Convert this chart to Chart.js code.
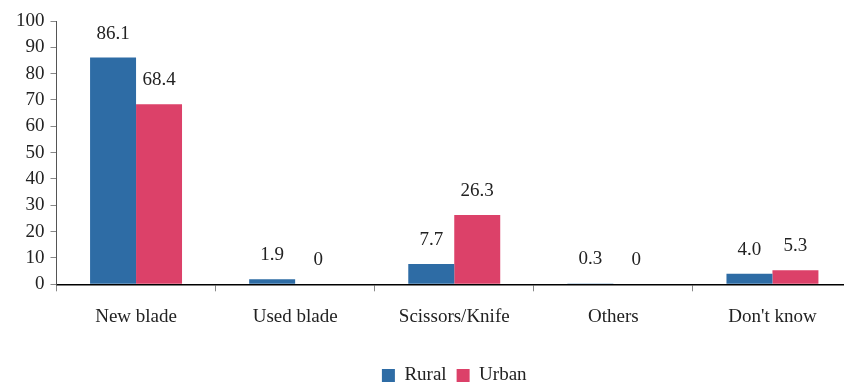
<!DOCTYPE html>
<html lang="en">
<head>
  <meta charset="UTF-8" />
  <script src="https://cdn.jsdelivr.net/npm/chart.js"></script>
  <style>
    html, body { margin: 0; padding: 0; background: #fff; overflow: hidden; }
    #wrap { width: 860px; height: 383px; }
  </style>
</head>
<body>
  <div id="wrap"><canvas id="bladeChart"></canvas></div>

  <script>
    const categories = ['New blade', 'Used blade', 'Scissors/Knife', 'Others', "Don't know"];
    const rural = [86.1, 1.9, 7.7, 0.3, 4.0];
    const urban = [68.4, 0, 26.3, 0, 5.3];
    const yTicks = [0, 10, 20, 30, 40, 50, 60, 70, 80, 90, 100];

    const SERIF = '"Liberation Serif", serif';
    const INK = '#222';

    // labels above each bar
    const valueLabels = {
      id: 'valueLabels',
      afterDatasetsDraw(chart) {
        const ctx = chart.ctx;
        ctx.save();
        ctx.font = '19px ' + SERIF;
        ctx.fillStyle = INK;
        ctx.textAlign = 'center';
        ctx.textBaseline = 'middle';
        chart.data.datasets.forEach((ds, i) => {
          chart.getDatasetMeta(i).data.forEach((bar, j) => {
            const v = ds.data[j];
            const txt = v === 0 ? '0' : v.toFixed(1);
            ctx.fillText(txt, bar.x, bar.y - 24);
          });
        });
        ctx.restore();
      }
    };

    new Chart(document.getElementById('bladeChart'), {
      type: 'bar',
      data: {
        labels: categories,
        datasets: [
          { label: 'Rural', data: rural, backgroundColor: '#2E6CA5' },
          { label: 'Urban', data: urban, backgroundColor: '#DC4169' }
        ]
      },
      options: {
        responsive: true,
        maintainAspectRatio: false,
        animation: false,
        layout: { padding: { top: 21, right: 8, left: 0, bottom: -12 } },
        datasets: { bar: { categoryPercentage: 0.578, barPercentage: 1 } },
        plugins: {
          legend: {
            position: 'bottom',
            fullSize: false,
            labels: {
              font: { family: SERIF, size: 19 },
              color: INK,
              boxWidth: 13,
              boxHeight: 13,
              padding: 10
            }
          },
          tooltip: { enabled: false }
        },
        scales: {
          x: {
            grid: { display: true, offset: true, drawOnChartArea: false, tickLength: 7, color: '#888' },
            border: { color: '#000', width: 1.5 },
            ticks: { font: { family: SERIF, size: 19 }, color: INK, padding: 14 },
            afterFit(scale) { scale.height = 71.7; }
          },
          y: {
            min: 0,
            max: 100,
            afterBuildTicks(scale) { scale.ticks = yTicks.map(v => ({ value: v })); },
            grid: { display: true, drawOnChartArea: false, tickLength: 6, color: '#888' },
            border: { color: '#555', width: 1 },
            ticks: { font: { family: SERIF, size: 19 }, color: INK, padding: 6, autoSkip: false },
            afterFit(scale) { scale.width = 56.5; scale.paddingTop = 0; scale.paddingBottom = 0; }
          }
        }
      },
      plugins: [valueLabels]
    });
  </script>
</body>
</html>
